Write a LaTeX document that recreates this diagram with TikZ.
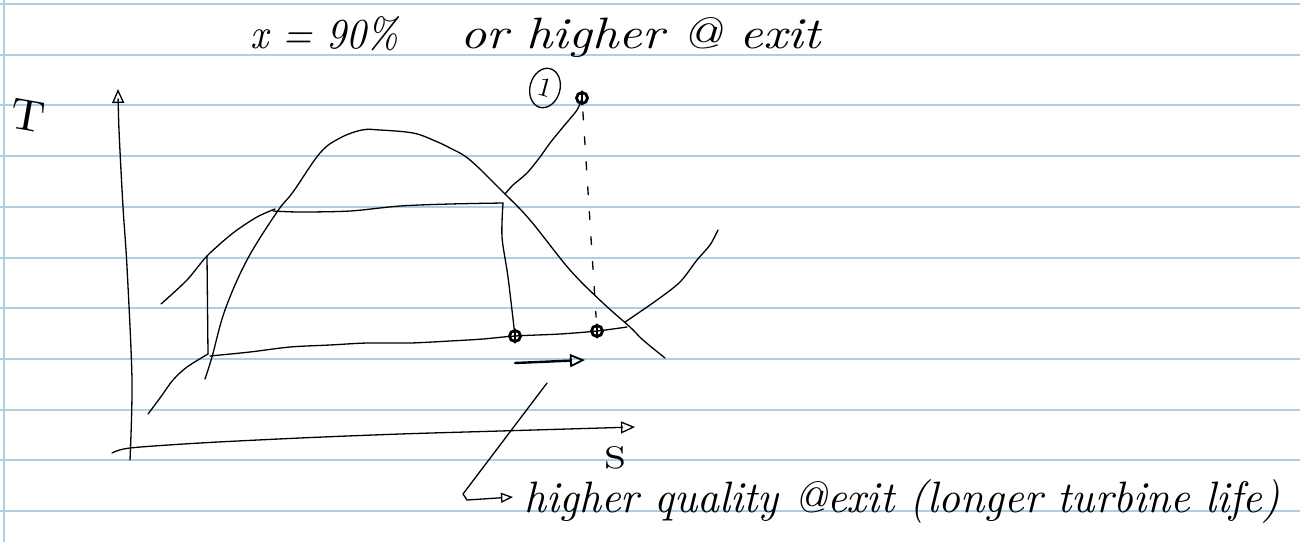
\documentclass[tikz,border=0pt]{standalone}
\usepackage{graphicx}
\usetikzlibrary{arrows.meta,shapes.geometric}
\definecolor{paperline}{HTML}{AFCFE0}
\tikzset{
  ink/.style={line width=1.3pt, line cap=round, line join=round, black},
  paper/.style={paperline, line width=2pt},
  opentip/.style={-{Triangle[open,length=14pt,width=12pt,line width=1.3pt]}},
  statedot/.style={circle, draw, line width=2.8pt, inner sep=0pt, minimum size=11pt},
  hand/.style={inner sep=0pt, font=\itshape},
}
\begin{document}
\begin{tikzpicture}[x=1pt,y=-1pt]
\useasboundingbox (0,0) rectangle (1300,542);
\fill[white] (0,0) rectangle (1300,542);
% ruled paper
\foreach \k in {0,...,10} \draw[paper] (0,{4+50.7*\k}) -- (1300,{4+50.7*\k});
\draw[paper] (4,0) -- (4,542);

% texts
\node[hand, anchor=base west] (xq) at (250,48) {\resizebox{148pt}{32pt}{x = 90\%}};
\node[hand, anchor=base west] (orhigher) at (460,48) {\resizebox{360pt}{31pt}{or higher @ exit}};
\node[hand, anchor=base west] (quality) at (524,512) {\resizebox{756pt}{33pt}{higher quality @exit (longer turbine life)}};
\node[hand, rotate=-10] (Tlab) at (28,116) {\resizebox{34pt}{30pt}{\upshape T}};
\node[hand] (Slab) at (615,458) {\resizebox{22pt}{22pt}{\upshape S}};
\node[draw, ellipse, line width=1.3pt, minimum width=30pt, minimum height=40pt, inner sep=0pt, rotate=-15] (one) at (545,88) {\resizebox{!}{18pt}{\normalfont 1}};

% axes
\coordinate (Tbot) at (130,460);
\coordinate (Ttop) at (118,89);
\coordinate (Sleft) at (112,453);
\coordinate (Sright) at (635,427);
\draw[ink, opentip] plot[smooth] coordinates {(Tbot) (132,380) (127,267) (123,207) (119,130) (Ttop)};
\draw[ink, opentip] plot[smooth] coordinates {(Sleft) (130,448) (200,443) (300,438) (400,434) (500,431) (Sright)};

% saturation dome
\draw[ink] plot[smooth, tension=0.6] coordinates {(205,379) (212,357) (225,310) (247,260) (277,212) (293,192) (320,153) (340,138) (362,130) (380,130) (413,133) (433,140) (450,148) (470,160) (503,192) (530,220) (570,270) (603,303) (630,327) (643,340) (665,358)};

% state points
\node[statedot] (p1) at (582,98) {};
\node[statedot] (p2) at (515,336) {};
\node[statedot] (p2s) at (597,331) {};
\foreach \p in {p1,p2,p2s} \draw[ink] (\p.north) -- (\p.south);
\coordinate (p3) at (208,354);
\coordinate (p4) at (207,256);
\coordinate (p5) at (503,203);

% high pressure line
\draw[ink] plot[smooth] coordinates {(161,304) (187,280) (p4) (233,233) (257,217) (275,209)};
\draw[ink] plot[smooth] coordinates {(273,211) (300,212) (350,211) (400,206) (450,204) (p5)};
\draw[ink] plot[smooth] coordinates {(505,194) (513,185) (527,173) (540,157) (550,143) (563,127) (577,110) (p1)};
% turbine (actual)
\draw[ink] plot[smooth] coordinates {(p5) (502,237) (508,277) (p2)};
% turbine (isentropic, dashed)
\draw[ink, dash pattern=on 8pt off 17pt, shorten <=7pt, shorten >=7pt] (p1) -- (p2s);
% pump
\draw[ink] (p3) -- (p4);
% low pressure line
\draw[ink] plot[smooth] coordinates {(148,414) (160,398) (173,380) (187,367) (p3)};
\draw[ink] plot[smooth] coordinates {(210,356) (250,352) (290,347) (330,345) (367,343) (410,343) (450,341) (483,339) (p2) (560,334) (p2s) (627,327)};
\draw[ink] plot[smooth] coordinates {(625,322) (631,318) (657,300) (680,282) (697,260) (710,245) (718,230)};

% small arrow
\coordinate (sa1) at (515,363);
\coordinate (sa2) at (585,360);
\draw[ink, line width=2.4pt, -{Triangle[open,length=15pt,width=13pt,line width=1.8pt]}] (sa1) -- (sa2);

% callout
\coordinate (c1) at (547,383);
\coordinate (c2) at (463,494);
\coordinate (c3) at (513,497);
\draw[ink, -{Triangle[open,length=12pt,width=10pt,line width=1.3pt]}] (c1) -- (c2) -- (467,500) -- (c3);
\end{tikzpicture}
\end{document}
